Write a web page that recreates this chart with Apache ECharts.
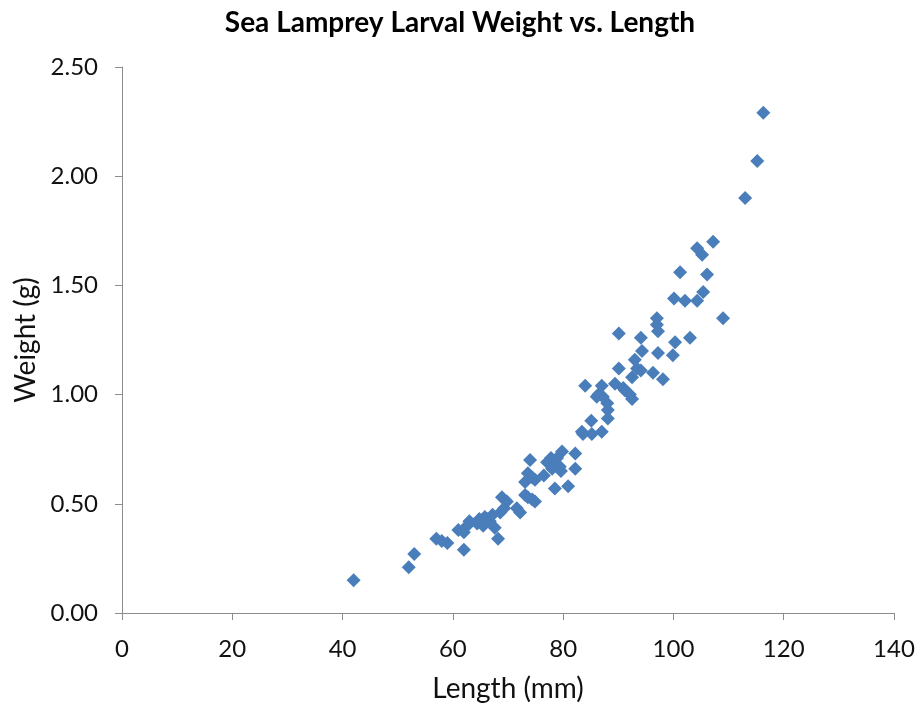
<!DOCTYPE html>
<html>
<head>
<meta charset="utf-8">
<script src="https://cdn.jsdelivr.net/npm/echarts@6/dist/echarts.min.js"></script>
<style>
  html, body { margin: 0; padding: 0; background: #ffffff; }
  #chart { width: 920px; height: 708px; }
</style>
</head>
<body>
<div id="chart"></div>
<script>
// Larval sea lamprey measurements: total length (mm) and weight (g)
const lengths = [
  42, 52, 53, 57, 59, 61, 62, 62, 63, 62.6,
  64.4, 65.5, 65.8, 66.7, 67.6, 68.2, 68.6, 68.9, 69.8, 71.6,
  72.2, 73.1, 74.4, 73.6, 74.9, 73.1, 74.4, 73.6, 74.9, 74,
  77.1, 79.8, 82.2, 78, 79.4, 82.2, 78.5, 80.9, 78.2, 78.9,
  84, 87, 89.4, 90.9, 92.5, 86.1, 87.2, 88, 88.1, 88.1,
  85.1, 83.4, 85.2, 87, 83.6, 90.1, 94.1, 97.2, 103, 100.3,
  94.3, 97.2, 99.9, 93, 90.1, 92.5, 94.1, 96.3, 98.1, 91.2,
  92.1, 93.4, 97, 97, 104.3, 107.2, 105.2, 101.2, 106.1, 100.1,
  102.1, 104.3, 105.4, 109, 113, 115.2, 116.3, 66.2, 67.2, 76.5,
  58, 64.8, 69.3, 77.8, 79.6, 86.4
];
const weights = [
  0.15, 0.21, 0.27, 0.34, 0.32, 0.38, 0.29, 0.37, 0.42, 0.40,
  0.41, 0.40, 0.44, 0.42, 0.39, 0.34, 0.46, 0.53, 0.51, 0.48,
  0.46, 0.60, 0.62, 0.53, 0.51, 0.54, 0.52, 0.64, 0.61, 0.70,
  0.69, 0.74, 0.73, 0.66, 0.67, 0.66, 0.57, 0.58, 0.69, 0.71,
  1.04, 1.04, 1.05, 1.03, 0.98, 0.99, 0.99, 0.96, 0.93, 0.89,
  0.88, 0.83, 0.82, 0.83, 0.82, 1.28, 1.26, 1.29, 1.26, 1.24,
  1.20, 1.19, 1.18, 1.16, 1.12, 1.08, 1.11, 1.10, 1.07, 1.02,
  1.00, 1.12, 1.35, 1.32, 1.67, 1.70, 1.64, 1.56, 1.55, 1.44,
  1.43, 1.43, 1.47, 1.35, 1.90, 2.07, 2.29, 0.43, 0.45, 0.63,
  0.33, 0.43, 0.48, 0.71, 0.65, 1.00
];
const xTicks = [0, 20, 40, 60, 80, 100, 120, 140];
const yTicks = [0, 0.5, 1.0, 1.5, 2.0, 2.5];

const points = lengths.map((len, i) => [len, weights[i]]);

const chart = echarts.init(document.getElementById('chart'), null, { renderer: 'canvas' });
const axisFont = 'Lato, "Open Sans", sans-serif';

chart.setOption({
  backgroundColor: '#ffffff',
  animation: false,
  title: {
    text: 'Sea Lamprey Larval Weight vs. Length',
    left: 'center',
    top: 4,
    textStyle: { fontFamily: axisFont, fontWeight: 'bold', fontSize: 28, color: '#000' }
  },
  grid: { left: 122, right: 26, top: 67, bottom: 94, containLabel: false },
  xAxis: {
    type: 'value',
    min: xTicks[0],
    max: xTicks[xTicks.length - 1],
    interval: xTicks[1] - xTicks[0],
    name: 'Length (mm)',
    nameLocation: 'middle',
    nameGap: 62,
    nameTextStyle: { fontFamily: axisFont, fontSize: 28, color: '#111' },
    axisLine: { show: true, lineStyle: { color: '#8c8c8c', width: 1 } },
    axisTick: { show: true, inside: false, length: 7, lineStyle: { color: '#8c8c8c' } },
    axisLabel: { fontFamily: axisFont, fontSize: 24, color: '#111', margin: 24 },
    splitLine: { show: false }
  },
  yAxis: {
    type: 'value',
    min: yTicks[0],
    max: yTicks[yTicks.length - 1],
    interval: yTicks[1] - yTicks[0],
    name: 'Weight (g)',
    nameLocation: 'middle',
    nameGap: 80,
    nameRotate: 90,
    nameTextStyle: { fontFamily: axisFont, fontSize: 28, color: '#111' },
    axisLine: { show: true, lineStyle: { color: '#8c8c8c', width: 1 } },
    axisTick: { show: true, inside: false, length: 7, lineStyle: { color: '#8c8c8c' } },
    axisLabel: {
      fontFamily: axisFont, fontSize: 24, color: '#111', margin: 24,
      formatter: v => v.toFixed(2)
    },
    splitLine: { show: false }
  },
  series: [{
    type: 'scatter',
    data: points,
    symbol: 'diamond',
    symbolSize: 14,
    itemStyle: { color: '#4a7ebb', opacity: 1 }
  }]
});
</script>
</body>
</html>
